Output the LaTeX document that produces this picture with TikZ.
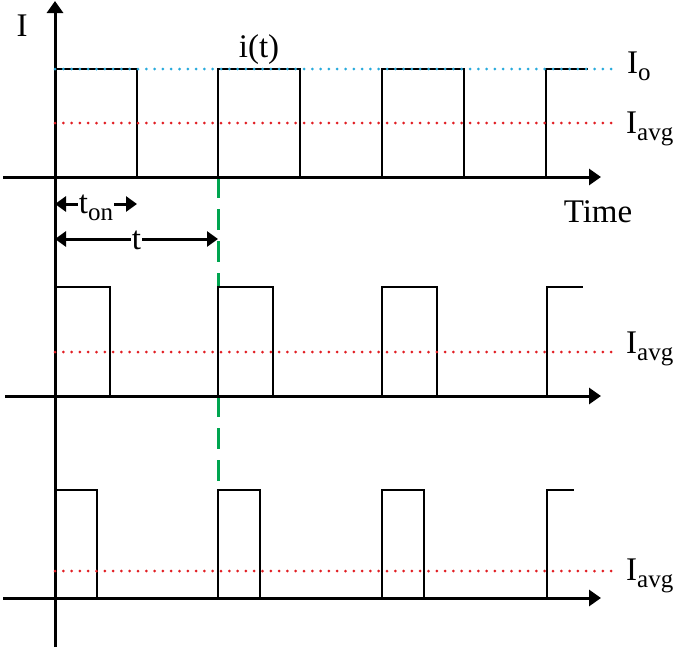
\documentclass[tikz,border=0pt]{standalone}
\usepackage{fontspec}
\setmainfont{Liberation Serif}
\usetikzlibrary{arrows.meta}
\definecolor{dotcyan}{RGB}{40,170,220}
\definecolor{dotred}{RGB}{225,30,35}
\definecolor{dashgreen}{RGB}{0,165,80}
\tikzstyle{axisline}=[line width=3pt,-{Triangle[length=12pt,width=16pt]}]
\tikzstyle{pulse}=[line width=2pt]
\tikzstyle{levelline}=[line width=3pt,line cap=round,dash pattern=on 0pt off 8.3pt]
\tikzstyle{dimarrow}=[line width=3pt,{Triangle[length=11pt,width=15pt]}-{Triangle[length=11pt,width=15pt]}]
\tikzstyle{lbl}=[inner sep=0pt,anchor=base west,font=\fontsize{33}{37}\selectfont]
\newcommand{\lowsub}[1]{\raisebox{-7pt}{\fontsize{25}{27}\selectfont #1}}

\begin{document}
\begin{tikzpicture}[x=1pt,y=-1pt]
    \useasboundingbox (0,0) rectangle (675,648);

    % axes
    \coordinate (ybot) at (55,647);
    \coordinate (ytop) at (55,1);
    \coordinate (xa0) at (3,177);   \coordinate (xa1) at (601,177);
    \coordinate (xb0) at (5,396);   \coordinate (xb1) at (601,396);
    \coordinate (xc0) at (3,598);   \coordinate (xc1) at (601,598);

    % period marker
    \draw[line width=3pt,dashgreen,dash pattern=on 21pt off 11pt]
      (218,177) -- (218,287) (218,396) -- (218,490);

    \draw[axisline] (ybot) -- (ytop);
    \draw[axisline] (xa0) -- (xa1);
    \draw[axisline] (xb0) -- (xb1);
    \draw[axisline] (xc0) -- (xc1);

    % pulse trains
    \foreach \x in {55,218,382}
      \draw[pulse] (\x,177) |- (\x+81.5,69) -- (\x+81.5,177);
    \draw[pulse] (546,177) |- (588,69);
    \foreach \x in {55,218,382}
      \draw[pulse] (\x,396) |- (\x+55,287) -- (\x+55,396);
    \draw[pulse] (547,396) |- (583,287);
    \foreach \x in {55,218,382}
      \draw[pulse] (\x,598) |- (\x+42,490) -- (\x+42,598);
    \draw[pulse] (547,598) |- (574,490);

    % levels
    \draw[levelline,dotcyan] (55,69) -- (612,69);
    \draw[levelline,dotred] (55,123) -- (612,123);
    \draw[levelline,dotred] (55,352) -- (613,352);
    \draw[levelline,dotred] (55,571) -- (612,571);

    % labels
    \node[lbl,anchor=base] (ylabel) at (22,36) {I};
    \node[lbl,anchor=base] (wavelabel) at (259,57) {i(t)};
    \node[lbl,anchor=base] (timelabel) at (598,222) {Time};
    \node[lbl] (iolabel) at (627,73) {I\lowsub{o}};
    \node[lbl] (avgone) at (626,133) {I\lowsub{avg}};
    \node[lbl] (avgtwo) at (626,353) {I\lowsub{avg}};
    \node[lbl] (avgthree) at (626,580) {I\lowsub{avg}};

    % on time and period
    \coordinate (ton0) at (55,204);  \coordinate (ton1) at (137,204);
    \coordinate (per0) at (55,239);  \coordinate (per1) at (218,239);
    \draw[dimarrow] (ton0) -- (ton1)
      node[lbl,pos=0.5,anchor=base,yshift=-9pt,fill=white,inner sep=1pt] (tonlabel) {t\lowsub{on}};
    \draw[dimarrow] (per0) -- (per1)
      node[lbl,pos=0.5,anchor=base,yshift=-10pt,fill=white,inner sep=1pt] (tlabel) {t};
\end{tikzpicture}
\end{document}
